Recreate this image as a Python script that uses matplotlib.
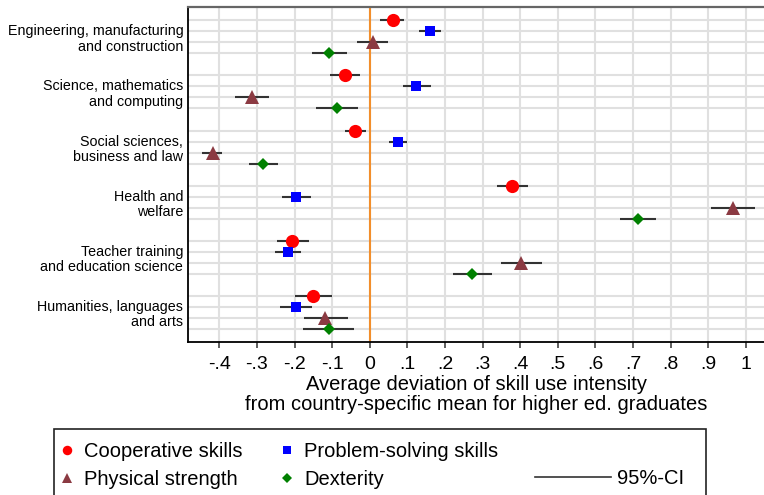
import numpy as np
import matplotlib
matplotlib.use("Agg")
import matplotlib.pyplot as plt
from matplotlib.lines import Line2D
from matplotlib.patches import Rectangle

plt.rcParams['font.family'] = ['Liberation Sans', 'DejaVu Sans']

# fields of study, top to bottom
groups = ["Engineering, manufacturing\nand construction",
          "Science, mathematics\nand computing",
          "Social sciences,\nbusiness and law",
          "Health and\nwelfare",
          "Teacher training\nand education science",
          "Humanities, languages\nand arts"]

# point estimates and 95% confidence bounds per skill
coop = [0.061, -0.066, -0.040, 0.379, -0.206, -0.151]
coop_lo = [0.027, -0.106, -0.066, 0.338, -0.247, -0.200]
coop_hi = [0.090, -0.027, -0.011, 0.420, -0.162, -0.101]

prob = [0.161, 0.124, 0.075, -0.195, -0.218, -0.197]
prob_lo = [0.130, 0.088, 0.051, -0.234, -0.253, -0.240]
prob_hi = [0.190, 0.162, 0.100, -0.156, -0.183, -0.154]

phys = [0.008, -0.314, -0.418, 0.965, 0.402, -0.118]
phys_lo = [-0.035, -0.359, -0.447, 0.906, 0.348, -0.175]
phys_hi = [0.048, -0.269, -0.392, 1.024, 0.457, -0.059]

dext = [-0.108, -0.086, -0.284, 0.712, 0.272, -0.109]
dext_lo = [-0.154, -0.144, -0.321, 0.664, 0.220, -0.178]
dext_hi = [-0.060, -0.031, -0.245, 0.762, 0.325, -0.041]

xticks = [-0.4, -0.3, -0.2, -0.1, 0, 0.1, 0.2, 0.3, 0.4, 0.5, 0.6, 0.7, 0.8, 0.9, 1]
xticklabels = ["-.4", "-.3", "-.2", "-.1", "0", ".1", ".2", ".3", ".4", ".5",
               ".6", ".7", ".8", ".9", "1"]

series = [
    ("Cooperative skills", coop, coop_lo, coop_hi, 'o', '#ff0000', 9.5),
    ("Problem-solving skills", prob, prob_lo, prob_hi, 's', '#0000ff', 7.5),
    ("Physical strength", phys, phys_lo, phys_hi, '^', '#8b3a42', 10),
    ("Dexterity", dext, dext_lo, dext_hi, 'D', '#008000', 6.5),
]

fig = plt.figure(figsize=(7.64, 4.95), dpi=100)
ax = fig.add_axes([0.2465, 0.3097, 0.7535, 0.6762])

n_rows = len(series)
step = n_rows + 1
handles = {}
for r, (name, val, lo, hi, mk, col, ms) in enumerate(series):
    y = np.arange(len(groups)) * step + r
    ax.hlines(y, lo, hi, color='#333333', lw=1.5, zorder=3)
    h, = ax.plot(val, y, ls='none', marker=mk, color=col, ms=ms,
                 markeredgewidth=0, zorder=4)
    handles[name] = h

ax.axvline(0, color='#f28e2b', lw=1.5, zorder=2)

# gridlines on every data row, category labels between rows
rows = np.concatenate([np.arange(len(groups)) * step + r for r in range(n_rows)])
ax.set_yticks(np.sort(rows), minor=True)
ax.set_yticks(np.arange(len(groups)) * step + (n_rows - 1) / 2)
ax.set_yticklabels(groups, fontsize=10.3, linespacing=1.1)
ax.tick_params(axis='y', which='both', length=0, pad=3.6)
ax.grid(axis='y', which='minor', color='#e0e0e0', lw=1.5)
ax.grid(axis='x', which='major', color='#e0e0e0', lw=1.5)
ax.set_axisbelow(True)

ax.set_xticks(xticks)
ax.set_xticklabels(xticklabels, fontsize=14)
ax.tick_params(axis='x', length=4, width=1.1, pad=6, color='#333333')
ax.set_xlim(-0.4824, 1.048)
ax.set_ylim(29.18, -1.22)
ax.set_xlabel("Average deviation of skill use intensity\n"
              "from country-specific mean for higher ed. graduates",
              fontsize=14.5, linespacing=1.05, labelpad=2)

ax.spines['right'].set_visible(False)
ax.spines['top'].set_color('#666666')
ax.spines['top'].set_linewidth(1.6)
ax.spines['left'].set_linewidth(1.3)
ax.spines['bottom'].set_linewidth(1.3)

# legend box
fig.add_artist(Rectangle((54 / 764, -0.1), (706 - 54) / 764, 0.1 + 1 - 429 / 495,
                         transform=fig.transFigure, fill=False,
                         edgecolor='#222222', lw=1.2))

leg_handles = [Line2D([], [], ls='none', marker=h.get_marker(), color=h.get_color(),
                      ms=h.get_markersize() * 0.72, markeredgewidth=0)
               for h in [handles["Cooperative skills"], handles["Physical strength"],
                         handles["Problem-solving skills"], handles["Dexterity"]]]
leg_labels = ["Cooperative skills", "Physical strength",
              "Problem-solving skills", "Dexterity"]
fig.legend(leg_handles, leg_labels, ncol=2, loc='upper left',
           bbox_to_anchor=(60 / 764, 1 - 442 / 495), frameon=False,
           fontsize=14.5, handlelength=0.7, handletextpad=0.5,
           columnspacing=1.85, labelspacing=0.46, borderpad=0, borderaxespad=0)

ci = Line2D([], [], color='#333333', lw=1.2)
fig.legend([ci], ["95%-CI"], loc='upper left',
           bbox_to_anchor=(535 / 764, 1 - 469 / 495), frameon=False,
           fontsize=14.5, handlelength=3.75, handletextpad=0.3,
           borderpad=0, borderaxespad=0)

fig.savefig("out.png", dpi=100)
